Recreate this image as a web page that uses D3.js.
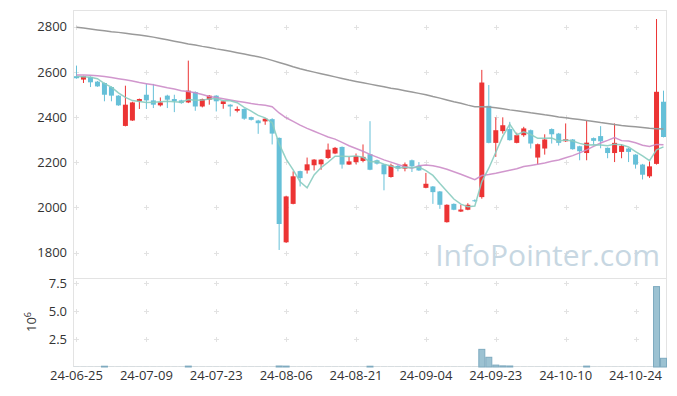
<!DOCTYPE html>
<html><head><meta charset="utf-8">
<script src="https://cdn.jsdelivr.net/npm/d3@7/dist/d3.min.js"></script>
<style>body{margin:0;background:#fff;} svg{display:block;font-family:"Open Sans","Noto Sans",sans-serif;}</style>
</head><body><svg id="c" width="677" height="396"></svg>
<script>
const dates = ["24-06-25","24-06-26","24-06-27","24-06-28","24-07-01","24-07-02","24-07-03","24-07-04","24-07-05","24-07-08",
"24-07-09","24-07-10","24-07-11","24-07-12","24-07-15","24-07-16","24-07-17","24-07-18","24-07-19","24-07-22",
"24-07-23","24-07-24","24-07-25","24-07-26","24-07-29","24-07-30","24-07-31","24-08-01","24-08-02","24-08-05",
"24-08-06","24-08-07","24-08-08","24-08-09","24-08-12","24-08-13","24-08-14","24-08-16","24-08-19","24-08-20",
"24-08-21","24-08-22","24-08-23","24-08-26","24-08-27","24-08-28","24-08-29","24-08-30","24-09-02","24-09-03",
"24-09-04","24-09-05","24-09-06","24-09-09","24-09-10","24-09-11","24-09-12","24-09-13","24-09-19","24-09-20",
"24-09-23","24-09-24","24-09-25","24-09-26","24-09-27","24-09-30","24-10-02","24-10-04","24-10-07","24-10-08",
"24-10-10","24-10-11","24-10-14","24-10-15","24-10-16","24-10-17","24-10-18","24-10-21","24-10-22","24-10-23",
"24-10-24","24-10-25","24-10-28","24-10-29","24-10-30"];
const open = [2581,2566,2578,2557,2551,2533,2495,2361,2385,2470,
2499,2474,2452,2495,2480,2474,2465,2511,2447,2477,
2495,2458,2455,2428,2436,2400,2385,2381,2391,2308,
1846,2016,2161,2164,2187,2191,2219,2239,2268,2190,
2201,2206,2236,2209,2191,2135,2184,2172,2209,2184,
2087,2093,2071,1935,2016,1982,1990,2032,2046,2450,
2286,2338,2347,2286,2320,2342,2221,2261,2347,2327,
2293,2301,2271,2241,2307,2316,2264,2241,2246,2261,
2234,2190,2138,2193,2468];
const high = [2628,2583,2580,2560,2553,2536,2497,2539,2468,2482,
2547,2547,2487,2499,2499,2477,2650,2514,2482,2497,
2497,2473,2457,2447,2439,2402,2388,2395,2395,2310,
2052,2160,2163,2221,2214,2214,2283,2268,2270,2224,
2239,2279,2382,2212,2193,2194,2188,2199,2212,2201,
2153,2095,2073,2014,2018,2012,2019,2036,2609,2542,
2399,2399,2379,2331,2357,2345,2283,2324,2350,2330,
2372,2303,2273,2387,2310,2360,2266,2372,2280,2264,
2236,2193,2204,2834,2517];
const low = [2570,2551,2533,2534,2470,2470,2450,2359,2383,2436,
2436,2440,2447,2440,2422,2459,2462,2428,2443,2455,
2425,2437,2403,2421,2388,2385,2326,2366,2279,1812,
1843,2014,2093,2150,2164,2167,2215,2236,2172,2188,
2191,2200,2165,2190,2076,2132,2160,2160,2157,2162,
2085,2016,1994,1933,1988,1980,1988,2025,2039,2284,
2224,2327,2296,2284,2313,2261,2191,2234,2283,2274,
2290,2256,2209,2209,2275,2262,2218,2201,2218,2201,
2172,2124,2131,2190,2310];
const close = [2572,2581,2554,2536,2499,2495,2452,2455,2465,2480,
2474,2455,2465,2477,2470,2462,2517,2447,2480,2495,
2470,2470,2447,2436,2393,2388,2373,2393,2327,1927,
2049,2138,2130,2191,2212,2212,2256,2264,2190,2204,
2228,2224,2167,2194,2147,2187,2172,2191,2182,2164,
2105,2068,2012,2012,1990,1991,2012,2028,2553,2286,
2342,2364,2298,2320,2350,2283,2280,2301,2324,2286,
2302,2258,2249,2287,2295,2293,2241,2286,2273,2246,
2190,2145,2182,2512,2312];
const volume = [15000,15000,15000,15000,70000,15000,15000,15000,15000,15000,
15000,15000,15000,15000,15000,15000,80000,15000,15000,15000,
15000,15000,15000,15000,15000,15000,15000,15000,15000,90000,
80000,15000,15000,15000,15000,15000,15000,15000,15000,15000,
15000,15000,70000,15000,15000,15000,15000,15000,15000,15000,
15000,15000,15000,15000,15000,15000,15000,15000,1580000,870000,
170000,100000,90000,15000,15000,15000,15000,15000,15000,15000,
15000,15000,15000,80000,15000,15000,15000,15000,15000,15000,
15000,15000,15000,7200000,780000];
const ma5 = [2580,2579,2576,2570,2548.4,2533,2507.2,2487.4,2473.2,2469.4,
2465.2,2465.8,2467.8,2470.2,2468.2,2465.8,2478.2,2474.6,2475.2,2480.2,
2481.8,2472.4,2472.4,2463.6,2443.2,2426.8,2407.4,2396.6,2374.8,2281.6,
2213.8,2166.8,2114.2,2087,2144,2176.6,2200.2,2227,2226.8,2225.2,
2228.4,2222,2202.6,2203.4,2192,2183.8,2173.4,2178.2,2175.8,2179.2,
2162.8,2142,2106.2,2072.2,2037.4,2014.6,2003.4,2006.6,2114.8,2174,
2244.2,2314.6,2368.6,2322,2334.8,2323,2306.2,2306.8,2307.6,2294.8,
2298.6,2294.2,2283.8,2276.4,2278.2,2276.4,2273,2280.4,2277.6,2267.8,
2247.2,2228,2207.2,2255,2268.2];
const ma20 = [2586,2586,2585,2583,2580,2575,2570,2565,2560,2553,
2548,2543,2537,2530,2524,2517,2513,2508,2500,2491.6,
2486.5,2480.9,2475.6,2470.6,2465.3,2459.9,2456,2452.9,2446,2418.3,
2397.1,2381.2,2364.5,2350.2,2337.3,2324.8,2311.7,2302.6,2288.1,2273.5,
2261.4,2249.1,2235.1,2223,2210.7,2200.7,2190.6,2180.5,2173.3,2185.1,
2187.9,2184.4,2178.5,2169.6,2158.5,2147.4,2135.2,2123.4,2141.6,2145.7,
2151.4,2158.4,2164.9,2171.2,2181.4,2186.2,2191.6,2197.1,2204.2,2210.3,
2220.1,2229.6,2241.5,2255.2,2270.5,2285.6,2297,2309.9,2295.9,2293.9,
2286.3,2275.4,2269.6,2279.2,2277.3];
const ma120 = [2798,2794,2790,2786,2782,2778,2775,2771,2767,2763,
2759,2754,2748,2742,2736,2730,2724,2719,2713,2708,
2702,2697,2691,2685,2679,2673,2667,2660,2651,2642,
2633,2623,2614,2606,2599,2592,2585,2578,2571,2564,
2558,2552,2546,2540,2534,2528,2523,2517,2511,2505,
2499,2491,2484,2476,2468,2461,2453,2446,2446,2445,
2441,2437,2432,2428,2424,2419,2415,2410,2406,2401,
2397,2393,2389,2385,2381,2376,2372,2367,2363,2360,
2357,2354,2351,2349,2347];
const priceTicks = [1800,2000,2200,2400,2600,2800];
const volTicks = [2.5e6,5e6,7.5e6];
const volTickLabels = ["2.5","5.0","7.5"];
const xTickIdx = [0,10,20,30,40,50,60,70,80];

const L=73,R=667,T=10,MB=278,VB=367;
const svg=d3.select("#c");
const x=d3.scaleBand().domain(dates).range([L,R]).padding(0);
const cx=i=>x(dates[i])+x.bandwidth()/2;
const y=d3.scaleLinear().domain([1688,2874]).range([MB,T]);
const yv=d3.scaleLinear().domain([0,7.97e6]).range([VB,MB]);
const gridC="#e3e3e3";

svg.append("rect").attr("x",L+0.5).attr("y",T+0.5).attr("width",R-L-1).attr("height",VB-T-1)
  .attr("fill","none").attr("stroke",gridC);
svg.append("line").attr("x1",L).attr("x2",R).attr("y1",MB+0.5).attr("y2",MB+0.5).attr("stroke",gridC);

function plus(px,py){
  svg.append("path").attr("d",`M${px-2.5},${py}H${px+2.5}M${px},${py-2.5}V${py+2.5}`)
    .attr("stroke","#e2e2e2").attr("stroke-width",1);
}
xTickIdx.forEach(i=>{
  priceTicks.forEach(p=>plus(Math.round(cx(i))+0.5,Math.round(y(p))+0.5));
  volTicks.forEach(v=>plus(Math.round(cx(i))+0.5,Math.round(yv(v))+0.5));
});

svg.append("text").attr("x",660).attr("y",266).attr("text-anchor","end")
  .attr("font-size",30).attr("fill","#c7d7e2").text("InfoPointer.com");

const up="#ec3434", dn="#66c0d8";
const bw=5;
const g=svg.append("g");
dates.forEach((d,i)=>{
  const col=close[i]>=open[i]?up:dn;
  const c=cx(i);
  g.append("line").attr("x1",c).attr("x2",c).attr("y1",y(high[i])).attr("y2",y(low[i]))
    .attr("stroke",col).attr("stroke-width",1);
  const top=y(Math.max(open[i],close[i])), bot=y(Math.min(open[i],close[i]));
  g.append("rect").attr("x",c-bw/2).attr("y",top).attr("width",bw).attr("height",Math.max(1,bot-top))
    .attr("fill",col);
});

const line=d3.line().x((v,i)=>cx(i)).y(v=>y(v));
svg.append("path").attr("d",line(ma120)).attr("fill","none").attr("stroke","#9a9a9a").attr("stroke-width",1.5);
svg.append("path").attr("d",line(ma20)).attr("fill","none").attr("stroke","#cc8cc8").attr("stroke-width",1.5).attr("opacity",0.9);
svg.append("path").attr("d",line(ma5)).attr("fill","none").attr("stroke","#88ccc0").attr("stroke-width",1.5).attr("opacity",0.9);

svg.append("g").selectAll("rect").data(volume).join("rect")
  .attr("x",(v,i)=>x(dates[i])+0.5).attr("width",x.bandwidth()-1)
  .attr("y",v=>yv(v)).attr("height",v=>VB-yv(v))
  .attr("fill","#9cc2d2")
  .attr("stroke",v=>(VB-yv(v))<0.5?"none":"#7eaabf").attr("stroke-width",1);

const yAxis=d3.axisLeft(y).tickValues(priceTicks).tickSize(0).tickPadding(6).tickFormat(d3.format("d"));
const ga=svg.append("g").attr("transform",`translate(${L},0)`).call(yAxis);
ga.select(".domain").remove();
ga.selectAll("text").attr("font-size",13).attr("fill","#333").attr("font-family","'Open Sans',sans-serif");

const vAxis=d3.axisLeft(yv).tickValues(volTicks).tickSize(0).tickPadding(6).tickFormat((d,i)=>volTickLabels[i]);
const gv=svg.append("g").attr("transform",`translate(${L},0)`).call(vAxis);
gv.select(".domain").remove();
gv.selectAll("text").attr("font-size",13).attr("fill","#333").attr("font-family","'Open Sans',sans-serif");

const xAxis=d3.axisBottom(x).tickValues(xTickIdx.map(i=>dates[i])).tickSize(0).tickPadding(4);
const gx=svg.append("g").attr("transform",`translate(0,${VB})`).call(xAxis);
gx.select(".domain").remove();
gx.selectAll("text").attr("font-size",13).attr("fill","#333").attr("font-family","'Open Sans',sans-serif");

const vl=svg.append("text").attr("transform","translate(36,322) rotate(-90)").attr("text-anchor","middle")
  .attr("font-size",13).attr("fill","#333");
vl.append("tspan").text("10");
vl.append("tspan").attr("dy",-5).attr("font-size",9).text("6");
</script></body></html>
